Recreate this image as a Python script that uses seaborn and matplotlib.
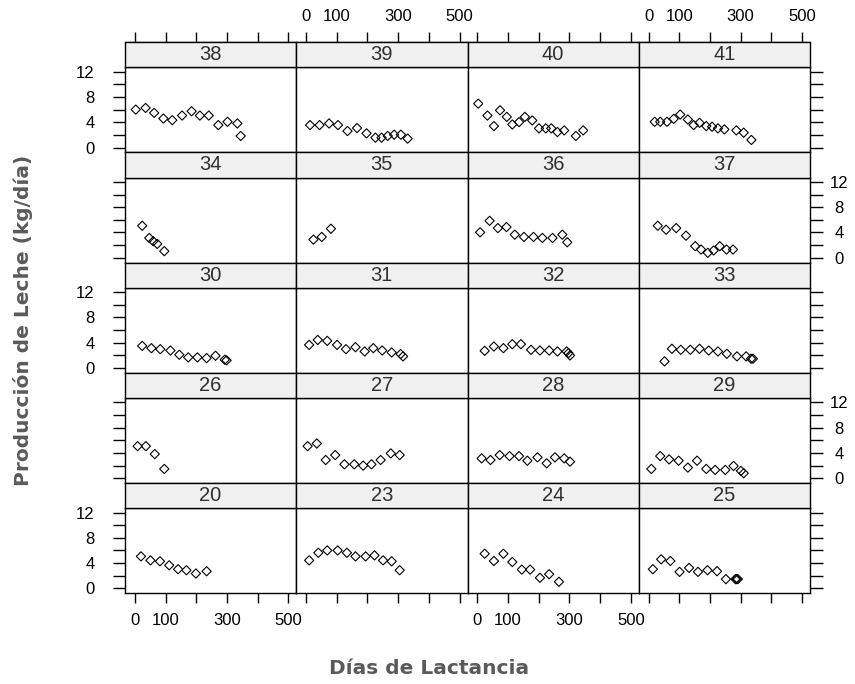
import matplotlib
matplotlib.use("Agg")
import matplotlib.pyplot as plt
import seaborn as sns
import pandas as pd
from matplotlib.patches import Rectangle

# ---- data: one pair of lists per cow (días, kg/día) ----
dias_38 = [3, 35, 63, 93, 122, 154, 185, 212, 241, 272, 302, 334, 345]
leche_38 = [6.0, 6.26, 5.48, 4.59, 4.33, 5.06, 5.74, 5.06, 5.06, 3.55, 4.07, 3.81, 1.83]
dias_39 = [13, 44, 75, 104, 135, 166, 197, 226, 246, 266, 287, 309, 331]
leche_39 = [3.55, 3.55, 3.81, 3.55, 2.61, 3.08, 2.24, 1.56, 1.56, 1.83, 2.03, 2.03, 1.41]
dias_40 = [3, 33, 54, 74, 96, 114, 136, 155, 179, 201, 223, 241, 261, 283, 321, 345]
leche_40 = [6.94, 5.06, 3.39, 5.89, 4.85, 3.65, 4.02, 4.85, 4.28, 3.03, 3.03, 3.03, 2.45, 2.71, 1.83, 2.71]
dias_41 = [20, 38, 60, 82, 103, 128, 147, 166, 188, 207, 226, 247, 286, 310, 335]
leche_41 = [4.07, 4.07, 4.07, 4.54, 5.22, 4.43, 3.55, 3.91, 3.39, 3.29, 3.03, 2.87, 2.71, 2.35, 1.2]
dias_34 = [24, 47, 60, 73, 96]
leche_34 = [5.06, 3.13, 2.61, 2.19, 1.04]
dias_35 = [24, 51, 81]
leche_35 = [2.87, 3.29, 4.59]
dias_36 = [9, 40, 67, 95, 122, 152, 183, 212, 245, 277, 293]
leche_36 = [4.02, 5.84, 4.69, 4.85, 3.65, 3.29, 3.29, 3.13, 3.13, 3.65, 2.45]
dias_37 = [30, 57, 90, 122, 152, 171, 193, 212, 232, 254, 275]
leche_37 = [5.06, 4.43, 4.69, 3.49, 1.83, 1.3, 0.78, 1.15, 1.83, 1.3, 1.3]
dias_30 = [24, 54, 83, 116, 145, 174, 204, 234, 263, 293, 299]
leche_30 = [3.49, 3.13, 2.97, 2.76, 2.09, 1.67, 1.67, 1.56, 1.93, 1.3, 1.2]
dias_31 = [10, 38, 69, 101, 130, 161, 191, 219, 248, 279, 308, 316]
leche_31 = [3.65, 4.43, 4.28, 3.65, 2.97, 3.29, 2.61, 3.13, 2.76, 2.45, 2.19, 1.83]
dias_32 = [24, 54, 85, 114, 142, 175, 204, 234, 261, 291, 297, 302]
leche_32 = [2.71, 3.39, 3.13, 3.76, 3.76, 2.87, 2.76, 2.76, 2.61, 2.61, 2.35, 1.98]
dias_33 = [52, 76, 105, 136, 166, 196, 226, 255, 288, 318, 334, 340]
leche_33 = [1.04, 3.03, 2.87, 2.87, 3.03, 2.76, 2.61, 2.24, 1.83, 1.83, 1.46, 1.46]
dias_26 = [9, 36, 65, 96]
leche_26 = [5.06, 5.06, 3.81, 1.46]
dias_27 = [5, 35, 64, 95, 125, 157, 186, 213, 243, 276, 305]
leche_27 = [5.06, 5.48, 2.87, 3.65, 2.19, 2.19, 1.98, 2.19, 2.87, 3.91, 3.65]
dias_28 = [14, 43, 73, 105, 136, 163, 196, 226, 253, 283, 302]
leche_28 = [3.13, 2.87, 3.65, 3.49, 3.49, 2.76, 3.29, 2.35, 3.29, 3.13, 2.61]
dias_29 = [9, 38, 67, 98, 128, 158, 188, 217, 250, 277, 301, 310]
leche_29 = [1.46, 3.49, 2.97, 2.76, 1.67, 2.76, 1.46, 1.3, 1.3, 1.93, 1.15, 0.78]
dias_20 = [20, 51, 82, 112, 141, 168, 199, 234]
leche_20 = [5.06, 4.43, 4.28, 3.65, 3.03, 2.87, 2.35, 2.71]
dias_23 = [10, 40, 69, 103, 133, 161, 194, 223, 251, 279, 305]
leche_23 = [4.43, 5.63, 6.0, 6.0, 5.63, 5.06, 5.06, 5.22, 4.43, 4.28, 2.87]
dias_24 = [24, 54, 85, 114, 145, 172, 204, 234, 266]
leche_24 = [5.48, 4.33, 5.48, 4.17, 2.97, 2.97, 1.67, 2.24, 1.04]
dias_25 = [14, 41, 71, 101, 132, 161, 192, 223, 252, 283, 287, 291]
leche_25 = [3.03, 4.59, 4.33, 2.61, 3.24, 2.61, 2.87, 2.71, 1.46, 1.46, 1.46, 1.46]

panel_order = [38, 39, 40, 41, 34, 35, 36, 37, 30, 31, 32, 33,
               26, 27, 28, 29, 20, 23, 24, 25]
x_ticks = [0, 100, 200, 300, 400, 500]
x_ticklabels = ["0", "100", "", "300", "", "500"]
y_ticks = [0, 2, 4, 6, 8, 10, 12]
y_ticklabels = ["0", "", "4", "", "8", "", "12"]
x_label = "Días de Lactancia"
y_label = "Producción de Leche (kg/día)"

series = {
    38: (dias_38, leche_38), 39: (dias_39, leche_39), 40: (dias_40, leche_40),
    41: (dias_41, leche_41), 34: (dias_34, leche_34), 35: (dias_35, leche_35),
    36: (dias_36, leche_36), 37: (dias_37, leche_37), 30: (dias_30, leche_30),
    31: (dias_31, leche_31), 32: (dias_32, leche_32), 33: (dias_33, leche_33),
    26: (dias_26, leche_26), 27: (dias_27, leche_27), 28: (dias_28, leche_28),
    29: (dias_29, leche_29), 20: (dias_20, leche_20), 23: (dias_23, leche_23),
    24: (dias_24, leche_24), 25: (dias_25, leche_25),
}
rows = []
for vaca, (d, l) in series.items():
    for xi, yi in zip(d, l):
        rows.append({"vaca": vaca, "dias": xi, "leche": yi})
df = pd.DataFrame(rows)

# ---- style ----
sns.set_style("ticks")
plt.rcParams["font.family"] = ["Liberation Sans", "DejaVu Sans"]

W, H = 855, 684
TICK_FS = 12
g = sns.FacetGrid(df, col="vaca", col_wrap=4, col_order=panel_order,
                  sharex=True, sharey=True, despine=False, height=1.2, aspect=1.6)
g.map_dataframe(sns.scatterplot, x="dias", y="leche", marker="D", s=22,
                facecolor="none", edgecolor="black", linewidth=0.8)
g.set_titles("")
g.set_axis_labels("", "")
fig = g.figure
fig.set_size_inches(W / 100, H / 100)

strip_px, panel_px = 25.0, 85.0
fig.subplots_adjust(left=125 / W, right=810 / W, top=1 - 67.3 / H,
                    bottom=1 - 593.3 / H, wspace=0, hspace=strip_px / panel_px)

for i, ax in enumerate(g.axes.flat):
    r, c = divmod(i, 4)
    vaca = panel_order[i]
    ax.set_xlim(-32, 526)
    ax.set_ylim(-0.78, 12.69)
    ax.set_xticks(x_ticks)
    ax.set_xticklabels(x_ticklabels)
    ax.set_yticks(y_ticks)
    ax.set_yticklabels(y_ticklabels)
    for sp in ax.spines.values():
        sp.set_color("black")
        sp.set_linewidth(1.0)
    ax.tick_params(axis="x", direction="out", length=7, width=1, labelsize=TICK_FS,
                   pad=7, top=False, bottom=(r == 4), labeltop=False,
                   labelbottom=(r == 4 and c in (0, 2)), colors="black")
    ax.tick_params(axis="y", direction="out", length=9, width=1, labelsize=TICK_FS,
                   left=(c == 0), right=(c == 3),
                   labelleft=(c == 0 and r in (0, 2, 4)),
                   labelright=(c == 3 and r in (1, 3)), colors="black")
    ax.tick_params(axis="y", which="major", pad=13)
    if c == 3:
        for lab in ax.get_yticklabels():
            lab.set_horizontalalignment("center")
        ax.yaxis.set_tick_params(pad=12)
    # strip
    h = strip_px / panel_px
    ax.add_patch(Rectangle((0, 1), 1, h, transform=ax.transAxes, clip_on=False,
                           facecolor="#f0f0f0", edgecolor="black", lw=1.0, zorder=3))
    ax.text(0.5, 1 + h / 2, str(vaca), transform=ax.transAxes, ha="center",
            va="center", fontsize=14.5, color="#303030", zorder=4)
    if r == 0:
        sec = ax.secondary_xaxis(1 + h)
        sec.set_xticks(x_ticks)
        sec.set_xticklabels(x_ticklabels)
        sec.tick_params(axis="x", direction="out", length=7, width=1,
                        labelsize=TICK_FS, pad=6, labeltop=(c in (1, 3)),
                        colors="black")
        for sp in sec.spines.values():
            sp.set_linewidth(1.0)

fig.text(429 / W, 1 - 668 / H, x_label, ha="center", va="center",
         fontsize=14.5, fontweight="bold", color="#5a5a5a",
         family=["DejaVu Sans"])
fig.text(23 / W, 1 - 320 / H, y_label, ha="center", va="center", rotation=90,
         fontsize=14.5, fontweight="bold", color="#5a5a5a",
         family=["DejaVu Sans"])

fig.savefig("out.png", dpi=100)
